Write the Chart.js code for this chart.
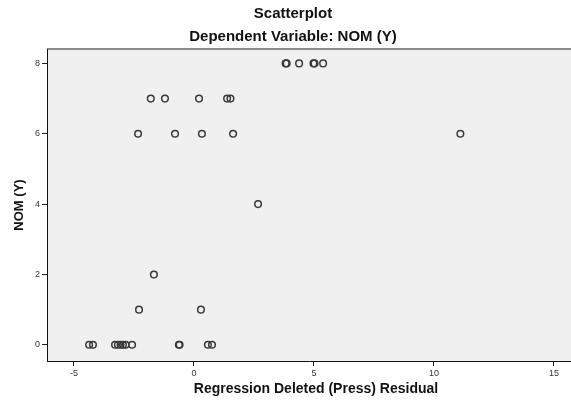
<!DOCTYPE html>
<html>
<head>
<meta charset="utf-8">
<script src="https://cdn.jsdelivr.net/npm/chart.js@4.4.1/dist/chart.umd.min.js"></script>
<style>
  html, body { margin: 0; padding: 0; background: #fff; }
  canvas { display: block; }
</style>
</head>
<body>
<canvas id="scatter" width="571" height="400"></canvas>
<script>
// residuals (x) and NOM (y)
const residuals = [
    3.82, 3.86, 4.38, 4.98, 5.02, 5.38,
    -1.80, -1.21, 0.21, 1.38, 1.52,
    -2.33, -0.79, 0.33, 1.63, 11.10,
    2.67,
    -1.67,
    -2.29, 0.29,
    -4.37, -4.21, -3.29, -3.17, -3.06, -2.96, -2.85, -2.58, -0.63, -0.60, 0.58, 0.75
];
const nomY = [
    8, 8, 8, 8, 8, 8,
    7, 7, 7, 7, 7,
    6, 6, 6, 6, 6,
    4,
    2,
    1, 1,
    0, 0, 0, 0, 0, 0, 0, 0, 0, 0, 0, 0
];
const xTicks = [-5, 0, 5, 10, 15];
const yTicks = [0, 2, 4, 6, 8];

const points = residuals.map((x, i) => ({ x: x, y: nomY[i] }));

const FONT = "'Liberation Sans', Arial, sans-serif";

// plot background, top edge and the centred texts
const frame = {
    id: "frame",
    beforeDraw(chart) {
        const { ctx, chartArea: a } = chart;
        ctx.save();
        ctx.fillStyle = "#f0f0f0";
        ctx.fillRect(a.left, a.top, a.right - a.left, a.bottom - a.top);
        ctx.strokeStyle = "#8c8c8c";
        ctx.lineWidth = 2;
        ctx.beginPath();
        ctx.moveTo(a.left, a.top);
        ctx.lineTo(a.right, a.top);
        ctx.stroke();
        ctx.restore();
    },
    afterDraw(chart) {
        const ctx = chart.ctx;
        ctx.save();
        ctx.fillStyle = "#111";
        ctx.textAlign = "center";
        ctx.textBaseline = "middle";
        ctx.font = "bold 15px " + FONT;
        ctx.fillText("Scatterplot", 293, 14);
        ctx.fillText("Dependent Variable: NOM (Y)", 293, 37);
        ctx.font = "bold 14px " + FONT;
        ctx.fillText("Regression Deleted (Press) Residual", 316, 389);
        ctx.restore();
    }
};

const tickFont = { family: FONT, size: 9 };

new Chart(document.getElementById("scatter").getContext("2d"), {
    type: "scatter",
    data: {
        datasets: [{
            data: points,
            backgroundColor: "rgba(0,0,0,0)",
            borderColor: "#3a3a3a",
            borderWidth: 1.5,
            pointRadius: 3.3,
            pointHoverRadius: 3.3
        }]
    },
    options: {
        responsive: false,
        animation: false,
        layout: { autoPadding: false, padding: { top: 49, right: 0, bottom: 0, left: 0 } },
        plugins: {
            legend: { display: false },
            tooltip: { enabled: false }
        },
        scales: {
            x: {
                type: "linear",
                min: -6.125,
                max: 15.71,
                afterBuildTicks: axis => { axis.ticks = xTicks.map(v => ({ value: v })); },
                afterFit: axis => { axis.height = 39; axis.paddingLeft = 0; axis.paddingRight = 0; },
                ticks: { font: tickFont, color: "#333", padding: 2, maxRotation: 0 },
                grid: { drawOnChartArea: false, drawTicks: true, tickLength: 5, tickColor: "#222" },
                border: { display: true, color: "#111", width: 1 }
            },
            y: {
                type: "linear",
                min: -0.46,
                max: 8.41,
                afterBuildTicks: axis => { axis.ticks = yTicks.map(v => ({ value: v })); },
                afterFit: axis => { axis.width = 47; axis.paddingTop = 0; axis.paddingBottom = 0; },
                ticks: { font: tickFont, color: "#333", padding: 2 },
                grid: { drawOnChartArea: false, drawTicks: true, tickLength: 5, tickColor: "#222" },
                border: { display: true, color: "#111", width: 1 },
                title: {
                    display: true,
                    text: "NOM (Y)",
                    color: "#111",
                    font: { family: FONT, size: 13, weight: "bold" },
                    padding: { top: 12, bottom: 0 }
                }
            }
        }
    },
    plugins: [frame]
});
</script>
</body>
</html>
